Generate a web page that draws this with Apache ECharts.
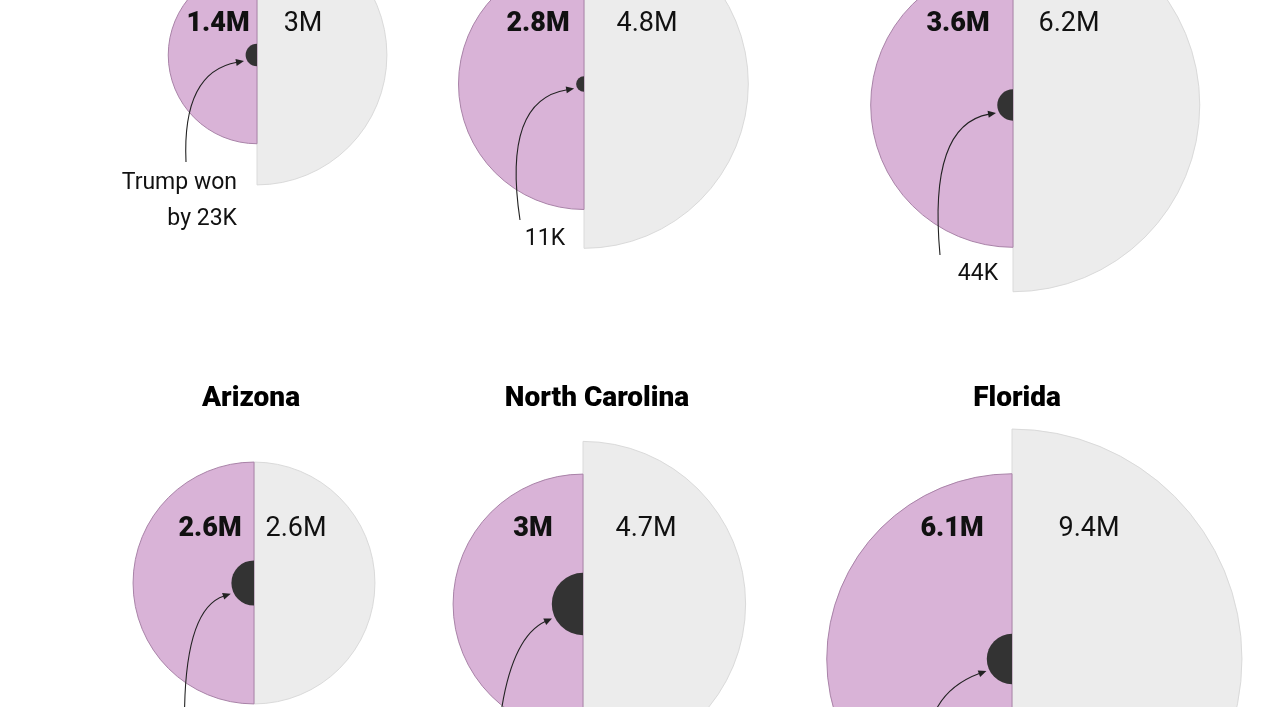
<!DOCTYPE html>
<html>
<head>
<meta charset="utf-8">
<script src="https://cdn.jsdelivr.net/npm/echarts@6/dist/echarts.min.js"></script>
<style>
html,body{margin:0;padding:0;background:#ffffff;}
#chart{width:1274px;height:707px;}
</style>
</head>
<body>
<div id="chart"></div>
<script>
// ---------------- data ----------------
const states = ['Wisconsin', 'Michigan', 'Pennsylvania', 'Arizona', 'North Carolina', 'Florida'];
const purpleVotesM = [1.4, 2.8, 3.6, 2.6, 3.0, 6.1];
const totalVotesM = [3.0, 4.8, 6.2, 2.6, 4.7, 9.4];
const marginK = [23, 11, 44, 91, 173, 113];
const purpleLabels = ['1.4M', '2.8M', '3.6M', '2.6M', '3M', '6.1M'];
const totalLabels = ['3M', '4.8M', '6.2M', '2.6M', '4.7M', '9.4M'];
const marginNotes = [['Trump won', 'by 23K'], ['11K'], ['44K'], [], [], []];

// ---------------- layout ----------------
const centers = [[257, 55], [584, 84], [1013, 105], [254, 583], [583, 604], [1012, 659]];
const POLAR_R = 240;      // pixel radius of every polar system
const AXIS_MAX = 3.2;     // sqrt(million votes) at POLAR_R (same scale for all panels)
const rowLabelY = [24, 24, 24, 529, 529, 529];
const purpleLabelX = [218, 538, 958, 210, 533, 952];
const totalLabelX = [303, 647, 1069, 296, 646, 1089];
const titleX = [null, null, null, 251, 597, 1017];
const titleY = 399;
const arrowStarts = [[186, 162], [520, 220], [940, 255], [185, 745], [497, 750], [928, 735]];
const arrowCtrls = [[182, 72], [502, 100], [928, 125], [180, 610], [505, 640], [935, 690]];
const noteAnchors = [[237, 183, 'right'], [545, 239, 'center'], [978, 274, 'center'], null, null, null];

const PURPLE = '#d9b3d7', PURPLE_EDGE = '#a983a8';
const GRAY = '#ececec', GRAY_EDGE = '#dadada';
const DOT = '#333333';
const FONT = 'Roboto, "Liberation Sans", Arial, sans-serif';

const chart = echarts.init(document.getElementById('chart'), null, {renderer: 'canvas'});

const polar = [], angleAxis = [], radiusAxis = [], series = [];
states.forEach((s, i) => {
  polar.push({center: centers[i], radius: POLAR_R});
  angleAxis.push({
    polarIndex: i, type: 'category', data: ['total', 'purple'], startAngle: 90, clockwise: true,
    show: false, axisLine: {show: false}, axisTick: {show: false}, axisLabel: {show: false}, splitLine: {show: false}
  });
  radiusAxis.push({
    polarIndex: i, type: 'value', min: 0, max: AXIS_MAX,
    show: false, axisLine: {show: false}, axisTick: {show: false}, axisLabel: {show: false}, splitLine: {show: false}
  });
  const common = {type: 'bar', coordinateSystem: 'polar', polarIndex: i, barCategoryGap: '0%', barGap: '-100%', silent: true};
  series.push(Object.assign({}, common, {
    name: s + ' total',
    data: [Math.sqrt(totalVotesM[i]), '-'],
    itemStyle: {color: GRAY, borderColor: GRAY_EDGE, borderWidth: 1}
  }));
  series.push(Object.assign({}, common, {
    name: s + ' votes',
    data: ['-', Math.sqrt(purpleVotesM[i])],
    itemStyle: {color: PURPLE, borderColor: PURPLE_EDGE, borderWidth: 1}
  }));
  series.push(Object.assign({}, common, {
    name: s + ' margin',
    data: ['-', Math.sqrt(marginK[i] / 1000)],
    itemStyle: {color: DOT, borderWidth: 0}
  }));
});

function pxRadius(valueM) { return POLAR_R * Math.sqrt(valueM) / AXIS_MAX; }

const graphics = [];
states.forEach((s, i) => {
  // value labels
  graphics.push({type: 'text', z: 100, x: purpleLabelX[i], y: rowLabelY[i],
    style: {text: purpleLabels[i], font: '900 27px ' + FONT, fill: '#111', align: 'center', verticalAlign: 'middle'}});
  graphics.push({type: 'text', z: 100, x: totalLabelX[i], y: rowLabelY[i],
    style: {text: totalLabels[i], font: '400 27px ' + FONT, fill: '#111', align: 'center', verticalAlign: 'middle'}});
  // titles
  if (titleX[i] !== null) {
    graphics.push({type: 'text', z: 100, x: titleX[i], y: titleY,
      style: {text: s, font: '900 28px ' + FONT, fill: '#000', align: 'center', verticalAlign: 'middle'}});
  }
  // arrow
  const c = centers[i];
  const rd = pxRadius(marginK[i] / 1000);
  const ang = 25 * Math.PI / 180;
  const T = [c[0] - (rd + 3) * Math.cos(ang), c[1] + (rd + 3) * Math.sin(ang)];
  const S = arrowStarts[i], C = arrowCtrls[i];
  let dx = T[0] - C[0], dy = T[1] - C[1];
  const len = Math.hypot(dx, dy); dx /= len; dy /= len;
  const hl = 8, hw = 3.5;
  const B = [T[0] - dx * hl, T[1] - dy * hl];
  const E = [T[0] - dx * (hl - 1), T[1] - dy * (hl - 1)];
  graphics.push({type: 'bezierCurve', z: 110,
    shape: {x1: S[0], y1: S[1], x2: E[0], y2: E[1], cpx1: C[0], cpy1: C[1]},
    style: {stroke: '#222', lineWidth: 1.1, fill: null}});
  graphics.push({type: 'polygon', z: 111,
    shape: {points: [T, [B[0] - dy * hw, B[1] + dx * hw], [B[0] + dy * hw, B[1] - dx * hw]]},
    style: {fill: '#222'}});
  // notes
  const na = noteAnchors[i];
  if (na) {
    marginNotes[i].forEach((line, k) => {
      graphics.push({type: 'text', z: 100, x: na[0], y: na[1] + k * 36,
        style: {text: line, font: '400 23px ' + FONT, fill: '#111', align: na[2], verticalAlign: 'middle'}});
    });
  }
});

chart.setOption({
  backgroundColor: '#ffffff',
  animation: false,
  polar: polar,
  angleAxis: angleAxis,
  radiusAxis: radiusAxis,
  series: series,
  graphic: {elements: graphics}
});
</script>
</body>
</html>
